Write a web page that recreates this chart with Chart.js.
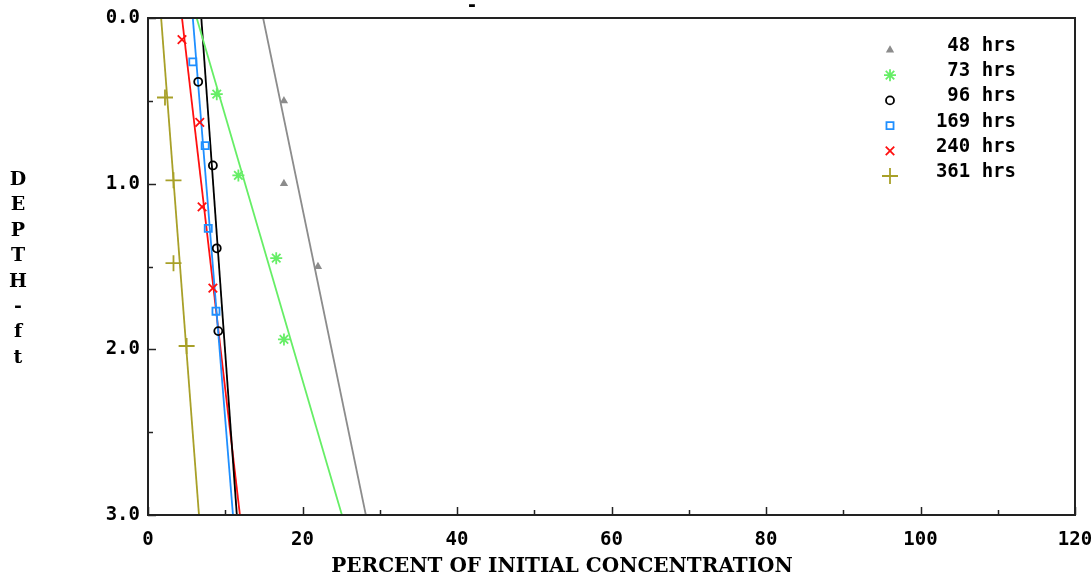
<!DOCTYPE html>
<html>
<head>
<meta charset="utf-8">
<script src="https://cdn.jsdelivr.net/npm/chart.js@4.4.1/dist/chart.umd.min.js"></script>
<style>
html,body{margin:0;padding:0;background:#fff;}
#wrap{width:1092px;height:583px;position:relative;}
</style>
</head>
<body>
<div id="wrap"><canvas id="c" width="1092" height="583"></canvas></div>
<script>
// ---- data ----
const seriesLabels = ['48 hrs', '73 hrs', '96 hrs', '169 hrs', '240 hrs', '361 hrs'];
const depth48  = [0.50, 1.00, 1.50];
const conc48   = [17.6, 17.6, 22.0];
const depth73  = [0.46, 0.95, 1.45, 1.94];
const conc73   = [8.9, 11.7, 16.6, 17.6];
const depth96  = [0.385, 0.89, 1.39, 1.89];
const conc96   = [6.5, 8.4, 8.9, 9.1];
const depth169 = [0.265, 0.77, 1.27, 1.77];
const conc169  = [5.8, 7.4, 7.8, 8.8];
const depth240 = [0.13, 0.63, 1.14, 1.63];
const conc240  = [4.4, 6.7, 7.0, 8.4];
const depth361 = [0.48, 0.98, 1.48, 1.98];
const conc361  = [2.2, 3.3, 3.3, 5.0];
// fitted lines: concentration at depth 0 and depth 3
const fitDepths = [0, 3];
const fit48  = [14.9, 28.2];
const fit73  = [6.3, 25.1];
const fit96  = [6.9, 11.5];
const fit169 = [5.8, 11.0];
const fit240 = [4.4, 11.9];
const fit361 = [1.7, 6.6];
const xTickLabels = [0, 20, 40, 60, 80, 100, 120];
const yTickLabels = ['0.0', '1.0', '2.0', '3.0'];
const xTitle = 'PERCENT OF INITIAL CONCENTRATION';
const yTitle = 'DEPTH-ft';

const colors = ['#8c8c8c', '#66ee66', '#000000', '#1f8fff', '#ff1010', '#a8a028'];
const styles = ['triangle', 'star', 'circle', 'rect', 'crossRot', 'cross'];
const radii  = [3, 6, 4, 5, 6, 8];

const ptsConc = [conc48, conc73, conc96, conc169, conc240, conc361];
const ptsDepth = [depth48, depth73, depth96, depth169, depth240, depth361];
const fits = [fit48, fit73, fit96, fit169, fit240, fit361];

const toXY = (xs, ys) => xs.map((x, i) => ({x: x, y: ys[i]}));

const datasets = [];
fits.forEach((f, i) => {
  datasets.push({
    label: seriesLabels[i] + ' fit',
    data: toXY(f, fitDepths),
    showLine: true,
    borderColor: colors[i],
    borderWidth: 1.8,
    pointRadius: 0,
    fill: false,
    order: 2
  });
});
ptsConc.forEach((c, i) => {
  datasets.push({
    label: seriesLabels[i],
    data: toXY(c, ptsDepth[i]),
    showLine: false,
    pointStyle: styles[i],
    pointRadius: radii[i],
    borderColor: colors[i],
    backgroundColor: i === 0 ? colors[i] : 'rgba(0,0,0,0)',
    pointBorderWidth: 1.8,
    order: 1
  });
});

const monoFont = 'bold 19px "DejaVu Sans Mono"';

const decor = {
  id: 'decor',
  afterDraw(chart) {
    const ctx = chart.ctx;
    const a = chart.chartArea;
    const xs = chart.scales.x, ys = chart.scales.y;
    ctx.save();
    // frame
    ctx.strokeStyle = '#222';
    ctx.lineWidth = 2;
    ctx.strokeRect(a.left, a.top, a.right - a.left, a.bottom - a.top);
    // x ticks (inward)
    ctx.lineWidth = 1.5;
    for (let v = 0; v <= 120; v += 10) {
      const px = Math.round(xs.getPixelForValue(v)) + 0.5;
      const len = (v % 20 === 0) ? 8 : 5;
      ctx.beginPath();
      ctx.moveTo(px, a.bottom);
      ctx.lineTo(px, a.bottom - len);
      ctx.stroke();
    }
    // y ticks (inward)
    for (let v = 0; v <= 3.0001; v += 0.5) {
      const py = Math.round(ys.getPixelForValue(v)) + 0.5;
      const len = (Math.abs(v - Math.round(v)) < 1e-6) ? 8 : 5;
      ctx.beginPath();
      ctx.moveTo(a.left, py);
      ctx.lineTo(a.left + len, py);
      ctx.stroke();
    }
    // x title
    ctx.fillStyle = '#000';
    ctx.font = 'bold 20px "DejaVu Serif"';
    ctx.textAlign = 'center';
    ctx.textBaseline = 'middle';
    ctx.fillText(xTitle, 562, 567);
    // y title, stacked letters
    ctx.font = 'bold 19px "DejaVu Serif"';
    for (let i = 0; i < yTitle.length; i++) {
      ctx.fillText(yTitle[i], 18, 180 + i * 25.4);
    }
    // small dash at top
    ctx.font = monoFont;
    ctx.fillText('-', 472, 6);
    // legend
    const rowY0 = 46, rowDy = 25.2;
    ptsConc.forEach((c, i) => {
      const ds = datasets[fits.length + i];
      const y = rowY0 + i * rowDy;
      ctx.fillStyle = '#000';
      ctx.font = monoFont;
      ctx.textAlign = 'right';
      ctx.textBaseline = 'middle';
      ctx.fillText(seriesLabels[i], 1016, y);
      ctx.strokeStyle = ds.borderColor;
      ctx.fillStyle = ds.backgroundColor;
      ctx.lineWidth = 1.8;
      Chart.helpers.drawPoint(ctx, {pointStyle: ds.pointStyle, radius: ds.pointRadius, rotation: 0, borderWidth: 1.8}, 890, y + 4);
    });
    ctx.restore();
  }
};

new Chart(document.getElementById('c'), {
  type: 'scatter',
  data: {datasets: datasets},
  options: {
    responsive: false,
    animation: false,
    layout: {padding: {top: 18, right: 17, left: 0, bottom: 0}},
    plugins: {legend: {display: false}, tooltip: {enabled: false}, title: {display: false}},
    scales: {
      x: {
        type: 'linear', min: 0, max: 120,
        grid: {display: false, drawTicks: false},
        border: {display: false},
        ticks: {
          stepSize: 20, color: '#000', font: {family: 'DejaVu Sans Mono', weight: 'bold', size: 19},
          padding: 14, maxRotation: 0,
          callback: (v) => xTickLabels.includes(v) ? String(v) : ''
        },
        afterFit: (s) => { s.height = 68; s.paddingLeft = 0; s.paddingRight = 0; }
      },
      y: {
        type: 'linear', min: 0, max: 3, reverse: true,
        grid: {display: false, drawTicks: false},
        border: {display: false},
        ticks: {
          stepSize: 1, color: '#000', font: {family: 'DejaVu Sans Mono', weight: 'bold', size: 19},
          padding: 8,
          callback: (v) => yTickLabels[Math.round(v)] !== undefined && Math.abs(v - Math.round(v)) < 1e-6 ? yTickLabels[Math.round(v)] : ''
        },
        afterFit: (s) => { s.width = 148; s.paddingTop = 0; s.paddingBottom = 0; }
      }
    }
  },
  plugins: [decor]
});
</script>
</body>
</html>
